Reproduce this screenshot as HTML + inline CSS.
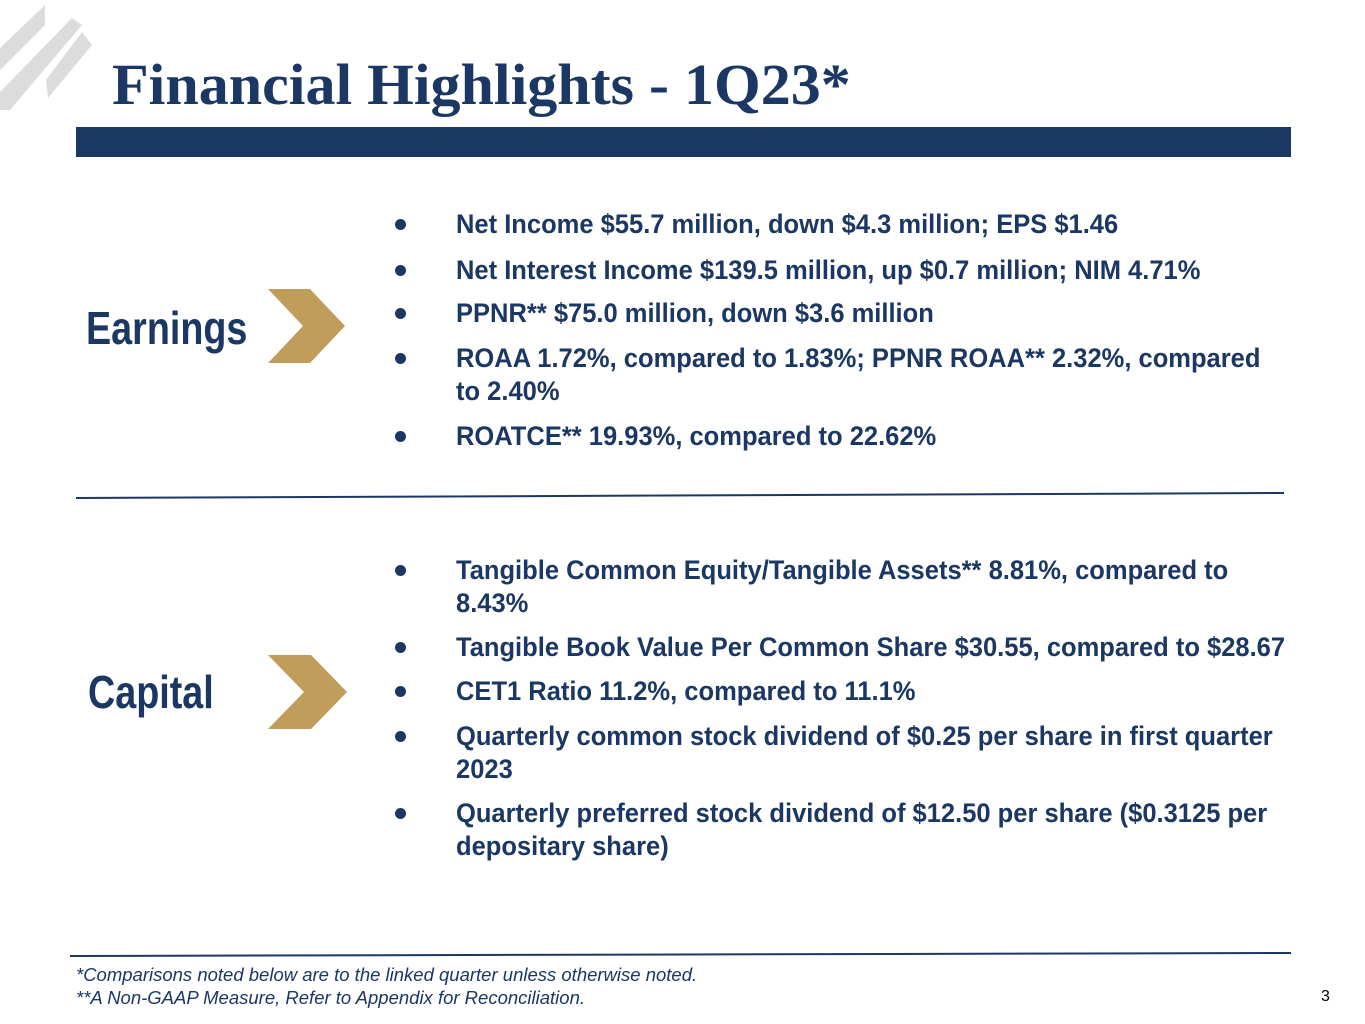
<!DOCTYPE html>
<html><head><meta charset="utf-8"><style>
html,body{margin:0;padding:0;background:#fff;}
#s{position:relative;width:1365px;height:1024px;overflow:hidden;background:#fff;}
.t{position:absolute;white-space:nowrap;font-family:"Liberation Sans Narrow","Liberation Sans",sans-serif;font-weight:bold;color:#1b3764;}
.b{font-size:27px;line-height:30px;transform-origin:left center;transform:scaleX(0.945);}
.dot{position:absolute;width:11px;height:11px;border-radius:50%;background:#1b3764;}
.f{position:absolute;font-family:"Liberation Sans",sans-serif;font-style:italic;font-size:18.5px;color:#1b3764;white-space:nowrap;}
</style></head><body>
<div id="s">
<svg style="position:absolute;left:0;top:0" width="100" height="115">
<polygon points="45,5 45,25 0,70 0,48" fill="#dcdcdc"/>
<polygon points="72,18 82,25 10,110 0,110 0,92" fill="#dcdcdc"/>
<polygon points="82,32 92,45 48,98 46,80" fill="#dcdcdc"/>
</svg>
<div style="position:absolute;left:112px;top:50px;font-family:'Liberation Serif',serif;font-weight:bold;font-size:58px;color:#1b3764;white-space:nowrap;line-height:70px;transform-origin:left center;transform:scaleX(1.035)">Financial Highlights - 1Q23*</div>
<div style="position:absolute;left:76px;top:127px;width:1215px;height:30px;background:#1b3764"></div>

<div class="t" style="left:86px;top:302px;font-size:46px;line-height:52px;transform-origin:left center;transform:scaleX(0.82)">Earnings</div>
<svg style="position:absolute;left:268px;top:289px" width="78" height="75"><polygon points="0,0 42,0 77,37 42,74 0,74 35,37" fill="#c09d5b"/></svg>

<div class="dot" style="top:219px;left:395px"></div>
<div class="t b" style="left:456px;top:209px">Net Income $55.7 million, down $4.3 million; EPS $1.46</div>
<div class="dot" style="top:265px;left:395px"></div>
<div class="t b" style="left:456px;top:255px">Net Interest Income $139.5 million, up $0.7 million; NIM 4.71%</div>
<div class="dot" style="top:308px;left:395px"></div>
<div class="t b" style="left:456px;top:298px">PPNR** $75.0 million, down $3.6 million</div>
<div class="dot" style="top:353px;left:395px"></div>
<div class="t b" style="left:456px;top:343px">ROAA 1.72%, compared to 1.83%; PPNR ROAA** 2.32%, compared</div>
<div class="t b" style="left:456px;top:376px">to 2.40%</div>
<div class="dot" style="top:431px;left:395px"></div>
<div class="t b" style="left:456px;top:421px">ROATCE** 19.93%, compared to 22.62%</div>

<svg style="position:absolute;left:0;top:0" width="1365" height="1024">
<line x1="76" y1="498" x2="1284" y2="493" stroke="#1b3764" stroke-width="2"/>
<line x1="70" y1="956" x2="1291" y2="953" stroke="#1b3764" stroke-width="2"/>
</svg>

<div class="t" style="left:88px;top:666px;font-size:46px;line-height:52px;transform-origin:left center;transform:scaleX(0.82)">Capital</div>
<svg style="position:absolute;left:268px;top:655px" width="80" height="75"><polygon points="0,0 43,0 79,37 43,74 0,74 36,37" fill="#c09d5b"/></svg>

<div class="dot" style="top:565px;left:395px"></div>
<div class="t b" style="left:456px;top:555px">Tangible Common Equity/Tangible Assets** 8.81%, compared to</div>
<div class="t b" style="left:456px;top:588px">8.43%</div>
<div class="dot" style="top:642px;left:395px"></div>
<div class="t b" style="left:456px;top:632px">Tangible Book Value Per Common Share $30.55, compared to $28.67</div>
<div class="dot" style="top:686px;left:395px"></div>
<div class="t b" style="left:456px;top:676px">CET1 Ratio 11.2%, compared to 11.1%</div>
<div class="dot" style="top:731px;left:395px"></div>
<div class="t b" style="left:456px;top:721px">Quarterly common stock dividend of $0.25 per share in first quarter</div>
<div class="t b" style="left:456px;top:754px">2023</div>
<div class="dot" style="top:808px;left:395px"></div>
<div class="t b" style="left:456px;top:798px">Quarterly preferred stock dividend of $12.50 per share ($0.3125 per</div>
<div class="t b" style="left:456px;top:831px">depositary share)</div>

<div class="f" style="left:76px;top:964px">*Comparisons noted below are to the linked quarter unless otherwise noted.</div>
<div class="f" style="left:76px;top:987px">**A Non-GAAP Measure, Refer to Appendix for Reconciliation.</div>
<div style="position:absolute;left:1321px;top:988px;font-family:'Liberation Sans',sans-serif;font-size:16px;color:#000">3</div>
</div>
</body></html>
